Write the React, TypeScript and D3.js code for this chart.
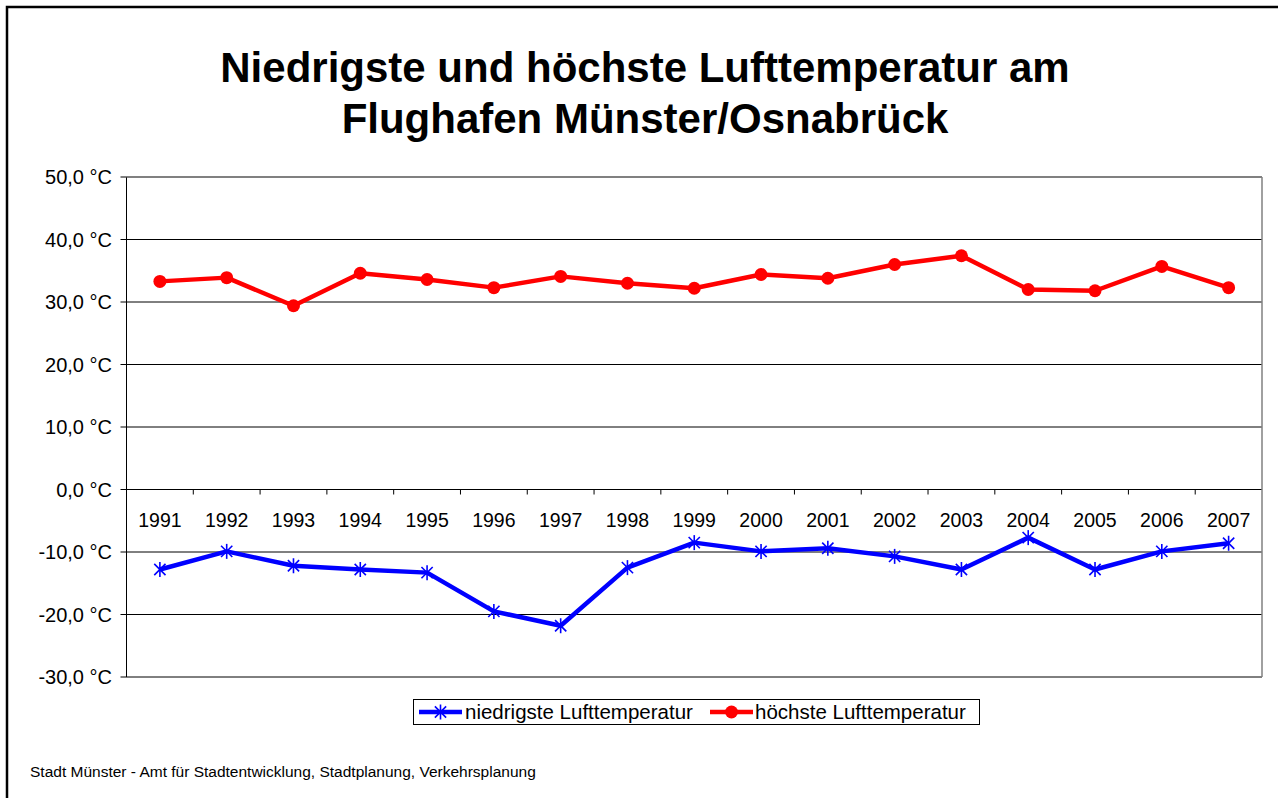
import React from "react";
import * as d3 from "d3";

// years on the category axis
const years = [
  "1991", "1992", "1993", "1994", "1995", "1996", "1997", "1998", "1999",
  "2000", "2001", "2002", "2003", "2004", "2005", "2006", "2007",
];
// lowest air temperature per year
const lowTemps = [
  -12.8, -9.9, -12.2, -12.8, -13.3, -19.5, -21.8, -12.5, -8.5,
  -9.9, -9.4, -10.7, -12.8, -7.7, -12.8, -9.9, -8.6,
];
// highest air temperature per year
const highTemps = [
  33.3, 33.9, 29.4, 34.6, 33.6, 32.3, 34.1, 33.0, 32.2,
  34.4, 33.8, 36.0, 37.4, 32.0, 31.8, 35.7, 32.3,
];
const yTicks = [50, 40, 30, 20, 10, 0, -10, -20, -30];

const fmt = (v: number) => v.toFixed(1).replace(".", ",") + " °C";

function Star({ x, y, r }: { x: number; y: number; r: number }) {
  const d = r * 0.75;
  return (
    <g stroke="#0000FF" strokeWidth={1.6}>
      <line x1={x} y1={y - r} x2={x} y2={y + r} />
      <line x1={x - d} y1={y - d} x2={x + d} y2={y + d} />
      <line x1={x - d} y1={y + d} x2={x + d} y2={y - d} />
    </g>
  );
}

export default function App() {
  const W = 1278;
  const H = 798;
  const left = 126.5;
  const right = 1262;
  const top = 177;
  const bottom = 677;

  const x = d3.scaleBand<string>().domain(years).range([left, right]).padding(0);
  const y = d3.scaleLinear().domain([-30, 50]).range([bottom, top]);
  const cx = (d: string) => (x(d) as number) + x.bandwidth() / 2;

  const lowLine = d3
    .line<number>()
    .x((d, i) => cx(years[i]))
    .y((d) => y(d))(lowTemps) as string;
  const highLine = d3
    .line<number>()
    .x((d, i) => cx(years[i]))
    .y((d) => y(d))(highTemps) as string;

  const font = "'Liberation Sans', Arial, sans-serif";

  return (
    <div style={{ position: "absolute", left: 0, top: 0 }}>
      <svg width={W} height={H} style={{ display: "block", fontFamily: font }}>
        <rect x={0} y={0} width={W} height={H} fill="#fff" />
        <rect x={7} y={7} width={W + 20} height={H + 20} fill="none" stroke="#000" strokeWidth={2.5} />

        <text x={645} y={82} textAnchor="middle" fontSize={42} fontWeight="bold">
          Niedrigste und höchste Lufttemperatur am
        </text>
        <text x={645} y={133} textAnchor="middle" fontSize={42} fontWeight="bold">
          Flughafen Münster/Osnabrück
        </text>

        {/* gridlines and y axis */}
        {yTicks.map((t) => (
          <g key={t}>
            <line x1={left - 6} x2={right} y1={y(t)} y2={y(t)} stroke="#000" strokeWidth={1} />
            <text x={112} y={y(t) + 7} textAnchor="end" fontSize={20}>
              {fmt(t)}
            </text>
          </g>
        ))}
        <line x1={left} x2={left} y1={top} y2={bottom} stroke="#000" strokeWidth={1} />
        <line x1={right} x2={right} y1={top} y2={bottom} stroke="#808080" strokeWidth={1.5} />
        <line x1={left} x2={right} y1={top} y2={top} stroke="#808080" strokeWidth={1.5} />

        {/* category axis at 0 */}
        {years.map((yr, i) => (
          <g key={yr}>
            {i > 0 && (
              <line
                x1={x(yr) as number}
                x2={x(yr) as number}
                y1={y(0)}
                y2={y(0) + 5}
                stroke="#000"
              />
            )}
            <text x={cx(yr)} y={y(0) + 37} textAnchor="middle" fontSize={19.5}>
              {yr}
            </text>
          </g>
        ))}

        {/* series */}
        <path d={highLine} fill="none" stroke="#FF0000" strokeWidth={4.5} strokeLinejoin="round" />
        {highTemps.map((v, i) => (
          <circle key={i} cx={cx(years[i])} cy={y(v)} r={6.5} fill="#FF0000" />
        ))}
        <path d={lowLine} fill="none" stroke="#0000FF" strokeWidth={4.5} strokeLinejoin="round" />
        {lowTemps.map((v, i) => (
          <Star key={i} x={cx(years[i])} y={y(v)} r={7.5} />
        ))}

        {/* legend */}
        <rect x={413.5} y={699.5} width={566} height={25} fill="#fff" stroke="#000" strokeWidth={1} />
        <line x1={419} x2={462} y1={712} y2={712} stroke="#0000FF" strokeWidth={4.5} />
        <Star x={440.5} y={712} r={7.5} />
        <text x={465} y={719} fontSize={20.5}>niedrigste Lufttemperatur</text>
        <line x1={710} x2={753} y1={712} y2={712} stroke="#FF0000" strokeWidth={4.5} />
        <circle cx={731.5} cy={712} r={6.5} fill="#FF0000" />
        <text x={755} y={719} fontSize={20.5}>höchste Lufttemperatur</text>

        <text x={30} y={777} fontSize={15.5}>
          Stadt Münster - Amt für Stadtentwicklung, Stadtplanung, Verkehrsplanung
        </text>
      </svg>
    </div>
  );
}
